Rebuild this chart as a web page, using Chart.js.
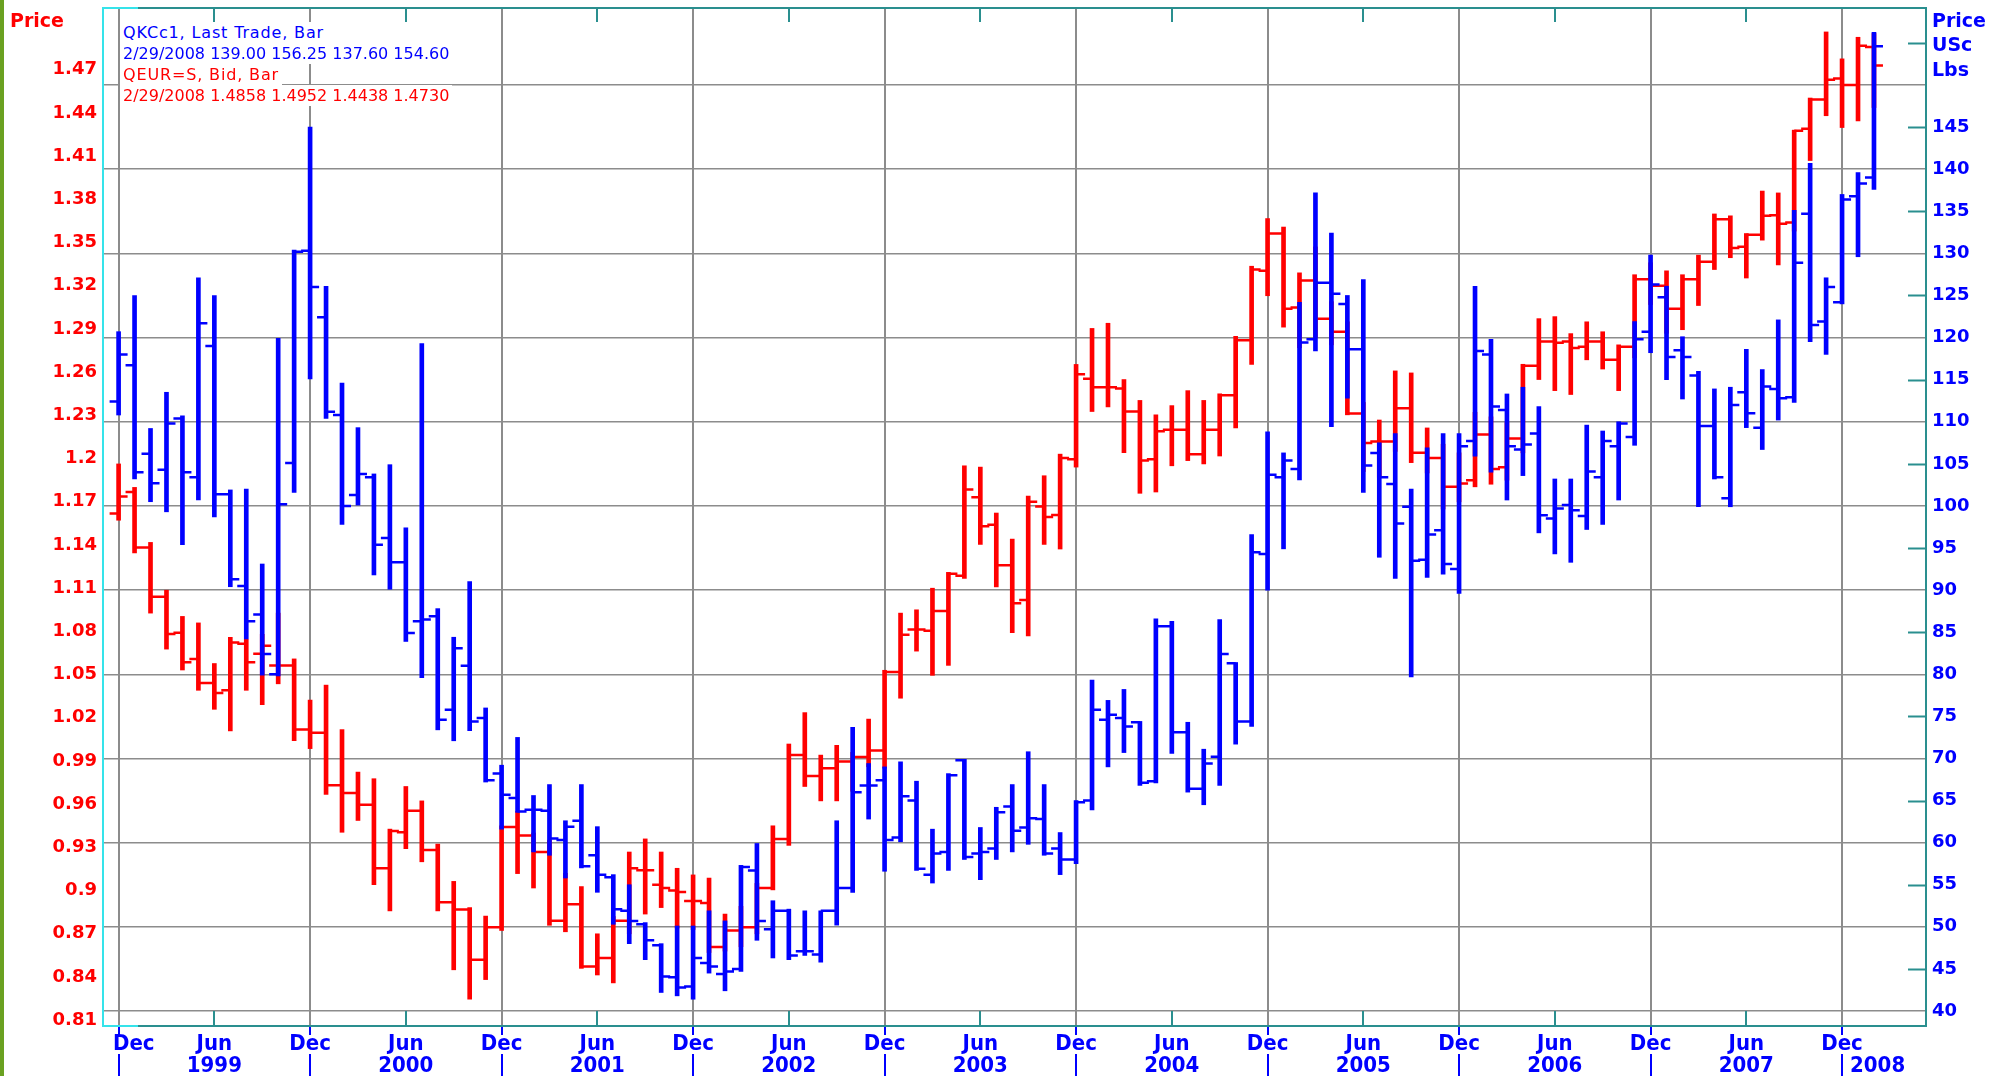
<!DOCTYPE html>
<html>
<head>
<meta charset="utf-8">
<title>QKCc1 / QEUR=S monthly bars</title>
<script src="https://cdn.jsdelivr.net/npm/chart.js@4.4.1/dist/chart.umd.min.js"></script>
<style>
  html, body { margin: 0; padding: 0; background: #fff; }
  #wrap { position: relative; width: 1990px; height: 1076px; overflow: hidden; background: #fff; }
  #c { position: absolute; left: 0; top: 0; }
  .side { position: absolute; left: 0; top: 0; width: 4px; height: 1076px; background: #6aa121; }
  .lg { position: absolute; left: 120px; padding: 0 3px; font: 16px "DejaVu Sans", sans-serif;
        line-height: 21px; height: 21px; background: #fff; white-space: nowrap; }
  .lg.name { letter-spacing: 0.85px; }
  .blue { color: #0000ff; }
  .red { color: #ff0000; }
  .ttl { position: absolute; font: bold 19px "DejaVu Sans", sans-serif; line-height: 22px; white-space: nowrap; }
</style>
</head>
<body>
<div id="wrap">
  <canvas id="c" width="1990" height="1076"></canvas>
  <div class="side"></div>
  <div class="ttl red" style="left:10px;top:9px;">Price</div>
  <div class="ttl blue" style="left:1932px;top:9px;">Price</div>
  <div class="ttl blue" style="left:1932px;top:33px;">USc</div>
  <div class="ttl blue" style="left:1932px;top:58px;">Lbs</div>
  <div class="lg name blue" style="top:22px;">QKCc1, Last Trade, Bar</div>
  <div class="lg blue" style="top:43px;">2/29/2008 139.00 156.25 137.60 154.60</div>
  <div class="lg name red" style="top:64px;">QEUR=S, Bid, Bar</div>
  <div class="lg red" style="top:85px;">2/29/2008 1.4858 1.4952 1.4438 1.4730</div>
</div>
<script>
// Monthly bars, Dec 1998 .. Feb 2008
const firstYear = 1998, firstMonth = 11, barCount = 111;
const monthNames = ['Jan','Feb','Mar','Apr','May','Jun','Jul','Aug','Sep','Oct','Nov','Dec'];
const months = Array.from({ length: barCount }, (_, i) => {
  const m = firstMonth + i;
  return monthNames[m % 12] + ' ' + (firstYear + Math.floor(m / 12));
});

// Coffee "C" futures, US cents per lb (right axis)
const coffeeOpen = [
  112.4,116.7,106.2,104.3,110.4,103.4,119.0,101.4,90.5,87.1,
  80.0,105.1,130.3,122.4,110.8,101.3,103.4,96.2,93.3,86.3,
  86.9,75.8,81.0,74.8,68.2,65.3,63.9,63.8,60.3,62.6,
  58.5,55.9,51.9,50.3,47.8,44.0,42.9,45.7,44.4,45.0,
  56.7,49.7,51.9,47.1,46.7,51.9,54.6,66.8,67.4,60.6,
  65.0,56.2,58.9,69.8,58.7,59.3,64.3,61.8,62.8,59.3,
  58.0,65.0,74.6,74.8,74.3,67.3,85.7,73.1,66.4,70.2,
  81.3,74.4,94.3,103.4,104.4,119.8,126.5,124.0,118.6,106.3,
  102.6,99.9,93.6,97.1,92.5,107.7,118.0,111.4,106.7,108.6,
  98.5,100.1,98.8,103.4,107.1,108.2,120.7,124.8,118.5,115.5,
  109.5,100.9,113.5,109.3,113.9,112.9,134.7,121.9,124.2,136.8,
  139.00];
const coffeeHigh = [
  120.7,125.0,109.2,113.5,110.7,127.1,125.0,101.9,102.0,93.1,
  119.9,130.4,145.0,126.1,114.6,109.3,103.8,104.9,97.4,119.3,
  87.8,84.4,91.0,76.0,69.2,72.5,65.6,66.9,62.6,66.9,
  61.9,56.2,55.0,50.5,48.0,50.1,50.1,51.9,50.7,57.3,
  59.9,53.1,52.1,51.9,51.9,62.6,73.7,69.4,69.0,69.6,
  67.3,61.6,68.2,69.9,61.8,64.2,66.9,70.8,66.9,61.2,
  65.0,79.3,76.9,78.2,74.4,86.6,86.3,74.3,71.1,86.5,
  81.4,96.6,108.8,106.3,124.2,137.2,132.4,125.0,126.9,107.5,
  108.6,102.0,106.9,108.6,108.6,126.1,119.8,113.3,114.1,111.8,
  103.2,103.2,109.6,108.9,110.0,121.9,129.8,126.1,120.1,116.0,
  113.9,114.1,118.6,116.2,122.1,135.1,140.7,127.1,137.0,139.6,
  156.25];
const coffeeLow = [
  110.8,103.2,100.5,99.3,95.4,100.7,98.7,90.4,84.2,79.9,
  79.8,101.6,115.1,110.4,97.8,100.1,91.8,90.1,83.9,79.6,
  73.4,72.1,73.3,67.2,61.6,63.6,58.9,58.5,55.8,57.0,
  54.1,50.3,48.0,46.1,42.2,41.8,41.4,44.5,42.4,44.7,
  48.4,46.3,46.1,46.6,45.8,50.2,54.1,62.8,56.6,60.1,
  56.7,55.2,56.7,58.0,55.6,58.0,58.9,59.8,58.5,56.2,
  57.5,63.9,69.0,70.7,66.8,67.1,70.6,66.0,64.5,66.8,
  71.7,73.8,90.0,94.9,103.1,118.4,109.4,112.8,101.6,93.9,
  91.4,79.7,91.5,91.9,89.6,105.9,104.0,100.7,103.6,96.8,
  94.3,93.3,97.2,97.8,100.7,107.2,118.2,115.0,112.7,99.9,
  103.2,99.9,109.3,106.7,110.2,112.3,119.5,118.0,124.0,129.6,
  137.60];
const coffeeClose = [
  118.0,104.0,102.7,109.8,104.0,121.7,101.4,91.3,86.3,82.4,
  100.2,130.2,126.0,111.2,100.0,103.8,95.4,93.3,84.9,86.5,
  74.6,83.1,74.4,67.4,65.7,63.7,63.9,60.5,61.9,57.2,
  56.2,52.1,50.7,48.4,44.1,42.8,46.3,45.3,44.7,57.1,
  50.7,51.9,46.6,47.1,51.9,54.6,66.0,66.8,60.3,65.5,
  56.9,58.7,68.0,58.3,58.9,63.6,61.4,62.9,58.7,58.0,
  64.8,75.8,75.2,73.8,67.1,85.7,73.1,66.4,69.4,82.4,
  74.4,94.5,103.7,105.4,119.4,126.5,125.2,118.6,104.8,103.4,
  97.9,93.5,96.6,93.1,107.1,118.4,111.8,107.1,107.3,98.9,
  99.7,99.5,104.1,107.7,109.8,119.8,126.3,117.7,117.7,109.5,
  103.4,112.0,111.0,114.2,112.8,128.9,121.5,126.0,136.4,138.3,
  154.60];

// EUR/USD bid (left axis)
const eurOpen = [
  1.1618,1.1768,1.1382,1.1041,1.0791,1.0609,1.0441,1.0391,1.0714,1.0645,
  1.0564,1.0564,1.0118,1.0096,0.9732,0.9677,0.9596,0.9155,0.9405,0.9555,
  0.9282,0.8919,0.8868,0.8519,0.8746,0.9441,0.9382,0.9268,0.8791,0.8905,
  0.8473,0.8532,0.8791,0.9141,0.9040,0.9000,0.8928,0.8914,0.8609,0.8723,
  0.8746,0.9018,0.9359,0.9941,0.9795,0.9850,0.9896,0.9927,0.9973,1.0518,
  1.0813,1.0804,1.0941,1.1186,1.1731,1.1540,1.1259,1.1018,1.1668,1.1609,
  1.1995,1.2554,1.2495,1.2486,1.2327,1.1995,1.2201,1.2201,1.2031,1.2201,
  1.2440,1.2822,1.3304,1.3563,1.3049,1.3236,1.2972,1.2881,1.2313,1.2118,
  1.2118,1.2350,1.2041,1.2004,1.1804,1.1850,1.2168,1.1940,1.2140,1.2645,
  1.2813,1.2813,1.2777,1.2813,1.2686,1.2777,1.3245,1.3200,1.3040,1.3245,
  1.3367,1.3663,1.3472,1.3554,1.3690,1.3640,1.4290,1.4494,1.4640,1.4594,
  1.4858];
const eurHigh = [
  1.1963,1.1800,1.1418,1.1086,1.0904,1.0859,1.0577,1.0759,1.0745,1.0780,
  1.0927,1.0609,1.0323,1.0427,1.0118,0.9823,0.9777,0.9427,0.9723,0.9623,
  0.9323,0.9064,0.8882,0.8823,0.9450,0.9550,0.9400,0.9350,0.9120,0.9028,
  0.8700,0.8820,0.9268,0.9359,0.9268,0.9155,0.9109,0.9087,0.8837,0.8891,
  0.9050,0.9450,1.0018,1.0236,0.9941,1.0009,0.9960,1.0191,1.0530,1.0927,
  1.0950,1.1100,1.1210,1.1950,1.1941,1.1622,1.1441,1.1740,1.1881,1.2031,
  1.2654,1.2904,1.2940,1.2549,1.2404,1.2304,1.2368,1.2472,1.2404,1.2450,
  1.2849,1.3336,1.3667,1.3608,1.3290,1.3470,1.3090,1.2950,1.2390,1.2268,
  1.2609,1.2595,1.2213,1.2100,1.2040,1.2322,1.2290,1.2250,1.2655,1.2972,
  1.2986,1.2868,1.2950,1.2881,1.2790,1.3277,1.3360,1.3304,1.3277,1.3413,
  1.3699,1.3686,1.3563,1.3858,1.3845,1.4281,1.4504,1.4963,1.4776,1.4926,
  1.4952];
const eurLow = [
  1.1572,1.1345,1.0927,1.0677,1.0532,1.0391,1.0259,1.0109,1.0391,1.0291,
  1.0436,1.0041,0.9986,0.9668,0.9405,0.9487,0.9041,0.8859,0.9291,0.9200,
  0.8859,0.8450,0.8246,0.8382,0.8723,0.9118,0.9018,0.8759,0.8714,0.8460,
  0.8414,0.8359,0.8700,0.8837,0.8882,0.8740,0.8730,0.8570,0.8580,0.8610,
  0.8700,0.9005,0.9314,0.9723,0.9623,0.9623,0.9690,0.9860,0.9850,1.0336,
  1.0663,1.0495,1.0564,1.1168,1.1404,1.1109,1.0791,1.0768,1.1404,1.1372,
  1.1941,1.2327,1.2359,1.2041,1.1759,1.1768,1.1950,1.1986,1.1963,1.2018,
  1.2213,1.2654,1.3131,1.2913,1.2770,1.2840,1.2790,1.2304,1.1910,1.1870,
  1.2050,1.1972,1.1900,1.1650,1.1700,1.1804,1.1822,1.1850,1.2040,1.2549,
  1.2472,1.2445,1.2686,1.2622,1.2472,1.2700,1.3070,1.2870,1.2895,1.3063,
  1.3313,1.3395,1.3254,1.3517,1.3345,1.3580,1.4070,1.4381,1.4299,1.4345,
  1.4438];
const eurClose = [
  1.1736,1.1382,1.1041,1.0782,1.0586,1.0441,1.0373,1.0723,1.0586,1.0700,
  1.0564,1.0118,1.0096,0.9732,0.9677,0.9596,0.9155,0.9414,0.9555,0.9282,
  0.8919,0.8868,0.8519,0.8746,0.9441,0.9382,0.9268,0.8791,0.8905,0.8473,
  0.8532,0.8791,0.9155,0.9141,0.9018,0.8990,0.8928,0.8609,0.8723,0.8746,
  0.9018,0.9359,0.9941,0.9795,0.9850,0.9896,0.9927,0.9973,1.0518,1.0777,
  1.0813,1.0941,1.1200,1.1786,1.1531,1.1259,1.0995,1.1700,1.1595,1.2004,
  1.2586,1.2495,1.2495,1.2327,1.1986,1.2190,1.2201,1.2031,1.2201,1.2440,
  1.2822,1.3313,1.3563,1.3040,1.3236,1.2972,1.2881,1.2313,1.2109,1.2118,
  1.2350,1.2041,1.2004,1.1804,1.1827,1.2168,1.1927,1.2140,1.2645,1.2813,
  1.2804,1.2768,1.2813,1.2686,1.2777,1.3245,1.3200,1.3040,1.3245,1.3367,
  1.3663,1.3463,1.3554,1.3686,1.3631,1.4277,1.4494,1.4631,1.4594,1.4867,
  1.4730];

// Axis tick labels
const eurTickLabels = ['0.81','0.84','0.87','0.9','0.93','0.96','0.99','1.02','1.05','1.08','1.11',
  '1.14','1.17','1.2','1.23','1.26','1.29','1.32','1.35','1.38','1.41','1.44','1.47'];
const coffeeTickLabels = ['40','45','50','55','60','65','70','75','80','85','90','95','100',
  '105','110','115','120','125','130','135','140','145'];
const coffeeTickValues = [40,45,50,55,60,65,70,75,80,85,90,95,100,105,110,115,120,125,130,135,140,145,150,155];
const monthTickLabels = ['Dec', 'Jun'];
const yearLabels = ['1999','2000','2001','2002','2003','2004','2005','2006','2007','2008'];

const decIdx = months.map((m, i) => m.startsWith('Dec') ? i : -1).filter(i => i >= 0);
const junIdx = months.map((m, i) => m.startsWith('Jun') ? i : -1).filter(i => i >= 0);

const BLUE = '#0000ff', RED = '#ff0000', GRID = '#8c8c8c', TEAL = '#2a8f8f', CYAN = '#35e3ea';

// Open (left) and close (right) ticks drawn right after each dataset's high-low bars
const ohlcTicks = {
  id: 'ohlcTicks',
  afterDatasetDraw(chart, args) {
    const ds = chart.data.datasets[args.index];
    const yScale = chart.scales[ds.yAxisID];
    const ctx = chart.ctx;
    ctx.save();
    ctx.strokeStyle = ds.backgroundColor;
    ctx.lineWidth = 2.5;
    ctx.lineCap = 'butt';
    ctx.beginPath();
    args.meta.data.forEach((bar, i) => {
      const x = bar.x;
      const yo = yScale.getPixelForValue(ds.opens[i]);
      const yc = yScale.getPixelForValue(ds.closes[i]);
      ctx.moveTo(x - 9, yo); ctx.lineTo(x, yo);
      ctx.moveTo(x, yc); ctx.lineTo(x + 9, yc);
    });
    ctx.stroke();
    ctx.restore();
  }
};

// Frame, minor ticks and the two-row date axis
const axisDecor = {
  id: 'axisDecor',
  afterDraw(chart) {
    const { ctx, chartArea: a, scales } = chart;
    const xs = scales.x, yR = scales.yR;
    ctx.save();

    ctx.strokeStyle = TEAL;
    ctx.lineWidth = 2;
    ctx.beginPath();
    junIdx.forEach(i => {
      const px = Math.round(xs.getPixelForValue(i));
      ctx.moveTo(px, a.top); ctx.lineTo(px, a.top + 14);
      ctx.moveTo(px, a.bottom - 15); ctx.lineTo(px, a.bottom);
    });
    coffeeTickValues.filter(v => v % 10 !== 0).forEach(v => {
      const py = Math.round(yR.getPixelForValue(v)) + 0.5;
      ctx.moveTo(a.right - 18, py); ctx.lineTo(a.right - 1, py);
    });
    ctx.stroke();

    ctx.lineWidth = 2;
    ctx.strokeStyle = TEAL;
    ctx.strokeRect(a.left, a.top, a.right - a.left, a.bottom - a.top);
    ctx.strokeStyle = CYAN;
    ctx.beginPath();
    ctx.moveTo(a.left + 35, a.top); ctx.lineTo(a.left, a.top);
    ctx.lineTo(a.left, a.bottom); ctx.lineTo(a.left + 35, a.bottom);
    ctx.stroke();

    // separators under each December
    ctx.strokeStyle = BLUE;
    ctx.lineWidth = 2;
    ctx.beginPath();
    decIdx.forEach(i => {
      const px = Math.round(xs.getPixelForValue(i));
      ctx.moveTo(px, a.bottom + 1); ctx.lineTo(px, a.bottom + 9);
      ctx.moveTo(px, a.bottom + 28); ctx.lineTo(px, 1076);
    });
    ctx.stroke();

    ctx.fillStyle = BLUE;
    ctx.font = 'bold 22px "DejaVu Sans", sans-serif';
    ctx.textBaseline = 'middle';
    ctx.textAlign = 'center';
    const sx = 0.9;
    const put = (text, cx, cy) => {
      ctx.save();
      ctx.translate(cx, cy);
      ctx.scale(sx, 1);
      ctx.fillText(text, 0, 0);
      ctx.restore();
    };
    const rowMonth = a.bottom + 18, rowYear = a.bottom + 40;
    decIdx.forEach(i => {
      const w = ctx.measureText(monthTickLabels[0]).width * sx;
      const px = Math.max(xs.getPixelForValue(i), a.left + 10 + w / 2);
      put(monthTickLabels[0], px, rowMonth);
    });
    junIdx.forEach(i => put(monthTickLabels[1], xs.getPixelForValue(i), rowMonth));
    yearLabels.forEach((y, k) => {
      const sep = xs.getPixelForValue(decIdx[k]);
      const w = ctx.measureText(y).width * sx;
      const centre = xs.getPixelForValue(decIdx[k] + 6);
      const px = (centre + w / 2 <= a.right) ? centre : sep + 8 + w / 2;
      put(y, px, rowYear);
    });
    ctx.restore();
  }
};

const labelFont = { family: 'DejaVu Sans', weight: 'bold', size: 18 };

new Chart(document.getElementById('c'), {
  type: 'bar',
  data: {
    labels: months,
    datasets: [
      {
        label: 'QKCc1', yAxisID: 'yR', order: 0,
        data: coffeeHigh.map((h, i) => ({ x: i, y: [coffeeLow[i], h] })),
        opens: coffeeOpen, closes: coffeeClose,
        backgroundColor: BLUE, borderWidth: 0, barThickness: 4, grouped: false
      },
      {
        label: 'QEUR=S', yAxisID: 'yL', order: 1,
        data: eurHigh.map((h, i) => ({ x: i, y: [eurLow[i], h] })),
        opens: eurOpen, closes: eurClose,
        backgroundColor: RED, borderWidth: 0, barThickness: 4, grouped: false
      }
    ]
  },
  options: {
    responsive: false,
    animation: false,
    devicePixelRatio: 1,
    events: [],
    layout: { padding: { top: 8, left: 0, right: 0, bottom: 0 } },
    plugins: { legend: { display: false }, tooltip: { enabled: false } },
    scales: {
      x: {
        type: 'linear', position: 'bottom', min: -0.9776, max: 113.26, offset: false,
        afterBuildTicks: s => { s.ticks = decIdx.concat(junIdx).sort((p, q) => p - q).map(v => ({ value: v })); },
        afterFit: s => { s.height = 50; s.paddingLeft = 0; s.paddingRight = 0; },
        ticks: { display: false },
        grid: {
          offset: false,
          color: c => (c.tick && months[c.tick.value] && months[c.tick.value].startsWith('Dec')) ? GRID : 'rgba(0,0,0,0)',
          lineWidth: 2, drawTicks: false
        },
        border: { display: false }
      },
      yL: {
        position: 'left', min: 0.80597, max: 1.51292,
        afterBuildTicks: s => { s.ticks = eurTickLabels.map(t => ({ value: parseFloat(t) })); },
        afterFit: s => { s.width = 103; s.paddingTop = 0; s.paddingBottom = 0; },
        ticks: { color: RED, font: labelFont, padding: 6, autoSkip: false,
                 callback: (v, i) => eurTickLabels[i] },
        grid: { display: false, drawTicks: false },
        border: { display: false }
      },
      yR: {
        position: 'right', min: 38.218, max: 159.15,
        afterBuildTicks: s => { s.ticks = coffeeTickValues.map(v => ({ value: v })); },
        afterFit: s => { s.width = 64; s.paddingTop = 0; s.paddingBottom = 0; },
        ticks: { color: BLUE, font: labelFont, padding: 6, autoSkip: false,
                 callback: (v, i) => coffeeTickLabels[i] || '' },
        grid: {
          color: c => (c.tick && c.tick.value % 10 === 0) ? GRID : 'rgba(0,0,0,0)',
          lineWidth: 1.5, drawTicks: false
        },
        border: { display: false }
      }
    }
  },
  plugins: [ohlcTicks, axisDecor]
});
</script>
</body>
</html>
